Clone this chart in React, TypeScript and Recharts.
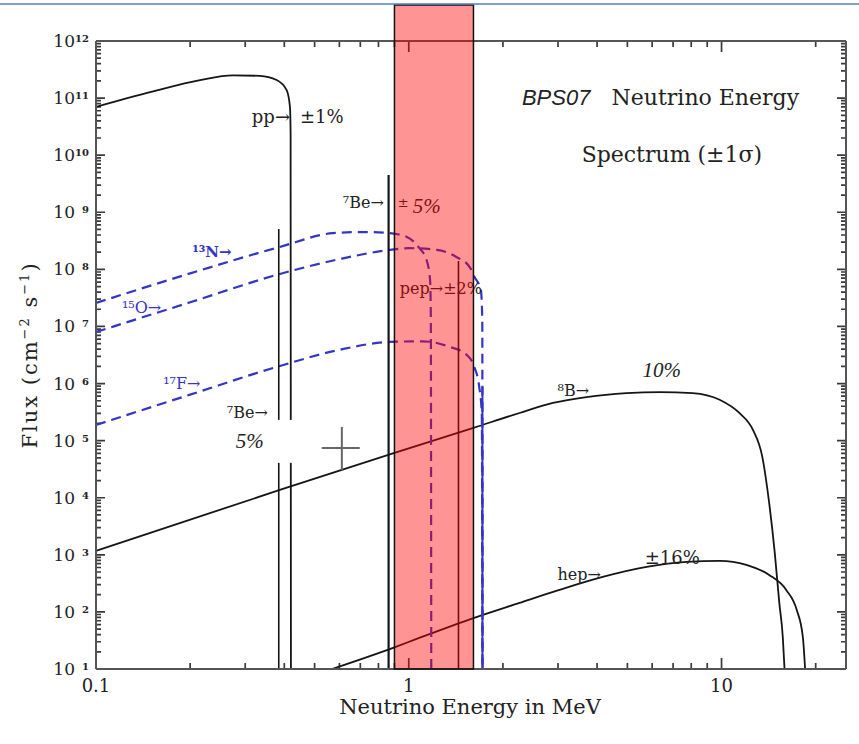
import React from "react";
import { LineChart, Line, XAxis, YAxis, ReferenceArea, ReferenceDot } from "recharts";

// energies in MeV, fluxes in cm^-2 s^-1 (per MeV for continua)
const ppEnergy = [0.1, 0.15, 0.215, 0.274, 0.334, 0.378, 0.407, 0.417, 0.419, 0.42];
const ppFlux = [7.0e10, 1.28e11, 2.07e11, 2.5e11, 2.45e11, 2.07e11, 1.38e11, 7e10, 2.4e10, 10];

const n13Energy = [0.1, 0.2, 0.387, 0.571, 0.7, 0.8, 0.87, 0.986, 1.08, 1.14, 1.17, 1.176, 1.18];
const n13Flux = [2.58e7, 8.5e7, 2.47e8, 4.3e8, 4.5e8, 4.45e8, 4.3e8, 3.7e8, 2.37e8, 1.46e8, 6.5e7, 1.7e7, 10];

const o15Energy = [0.1, 0.2, 0.387, 0.603, 0.87, 1.0, 1.23, 1.42, 1.57, 1.62, 1.7, 1.718, 1.722];
const o15Flux = [8.0e6, 2.65e7, 8.3e7, 1.52e8, 2.19e8, 2.35e8, 2.19e8, 1.65e8, 1.07e8, 7.4e7, 4.4e7, 1.3e7, 10];

const f17Energy = [0.1, 0.2, 0.387, 0.6, 0.87, 1.11, 1.35, 1.53, 1.62, 1.68, 1.712, 1.72];
const f17Flux = [1.88e5, 6.4e5, 2.03e6, 3.9e6, 5.36e6, 5.5e6, 4.4e6, 3.2e6, 1.95e6, 8.7e5, 3e5, 10];

const cnoTailEnergy = [1.72, 1.72];
const cnoTailFlux = [8.7e5, 10];

const b8Energy = [0.1, 0.387, 0.9, 1.61, 2.26, 2.89, 3.7, 4.97, 6.34, 8.08, 9.86, 11.4, 12.6, 13.5, 14.2, 14.8, 15.3, 15.7, 15.9];
const b8Flux = [1.17e3, 1.37e4, 6.1e4, 1.67e5, 3.05e5, 4.57e5, 5.8e5, 6.8e5, 7.1e5, 6.8e5, 5.2e5, 3.05e5, 1.54e5, 5.2e4, 8.1e3, 1.07e3, 144, 36, 10];

const hepEnergy = [0.568, 0.9, 1.08, 1.61, 2.26, 3.03, 4.17, 5.76, 7.73, 9.86, 12.0, 14.2, 16.1, 17.4, 18.2, 18.5];
const hepFlux = [10, 24, 35, 78, 144, 243, 410, 614, 751, 782, 665, 445, 243, 108, 36, 10];

// monoenergetic lines: 7Be (0.384), 7Be (0.862), pep (1.442)
const lineEnergies = [0.384, 0.862, 1.442];
const lineTops = [5.1e8, 4.5e9, 1.4e8];
const lineWidths = [1.6, 2.2, 1.6];

// measured point with error cross
const crossEnergy = [0.527, 0.611, 0.697];
const crossFlux = [3.07e4, 7.45e4, 1.74e5];

// highlighted energy window
const bandEnergy = [0.9, 1.61];

const xDomain = [0.1, 25];
const yDomain = [10, 1e12];
const xMajorTicks = [0.1, 1, 10];
const xMinorTicks = [0.2, 0.3, 0.4, 0.5, 0.6, 0.7, 0.8, 0.9, 2, 3, 4, 5, 6, 7, 8, 9, 20];
const yExponents = [1, 2, 3, 4, 5, 6, 7, 8, 9, 10, 11, 12];
const yMinorMultipliers = [2, 3, 4, 5, 6, 7, 8, 9];

type Annotation = { text: string; e: number; flux: number; kind: string };
const annotations: Annotation[] = [
  { text: "pp→", e: 0.315, flux: 4.67e10, kind: "large" },
  { text: "±1%", e: 0.449, flux: 4.67e10, kind: "large" },
  { text: "BPS07", e: 2.3, flux: 1.04e11, kind: "titleItalic" },
  { text: "Neutrino Energy", e: 4.45, flux: 1.04e11, kind: "title" },
  { text: "Spectrum (±1σ)", e: 3.57, flux: 1.01e10, kind: "title" },
  { text: "⁷Be→", e: 0.615, flux: 1.51e9, kind: "plain" },
  { text: "±", e: 0.922, flux: 1.51e9, kind: "small" },
  { text: "5%", e: 1.03, flux: 1.29e9, kind: "italic" },
  { text: "¹³N→", e: 0.203, flux: 2.02e8, kind: "blueBold" },
  { text: "¹⁵O→", e: 0.121, flux: 2.11e7, kind: "blue" },
  { text: "¹⁷F→", e: 0.164, flux: 1.02e6, kind: "blue" },
  { text: "⁷Be→", e: 0.262, flux: 3.05e5, kind: "plain" },
  { text: "5%", e: 0.28, flux: 9.9e4, kind: "boxedItalic" },
  { text: "pep→±2%", e: 0.936, flux: 4.7e7, kind: "plain" },
  { text: "⁸B→", e: 2.99, flux: 7.7e5, kind: "plain" },
  { text: "10%", e: 5.59, flux: 1.73e6, kind: "italic" },
  { text: "hep→", e: 2.99, flux: 445, kind: "plain" },
  { text: "±16%", e: 5.68, flux: 884, kind: "large" },
];

const FRAME = "#555";
const TICK = "#3a3a3a";
const INK = "#151515";
const BLUE = "#3434c6";
const SERIF = "'DejaVu Serif', serif";
const ITALIC_SERIF = "'Liberation Serif', serif";

const textStyles: Record<string, React.SVGProps<SVGTextElement>> = {
  plain: { fontFamily: SERIF, fontSize: 16, fill: "#222" },
  small: { fontFamily: SERIF, fontSize: 13, fill: "#222" },
  large: { fontFamily: SERIF, fontSize: 18, fill: "#222" },
  italic: { fontFamily: ITALIC_SERIF, fontSize: 21, fontStyle: "italic", fill: "#222" },
  boxedItalic: { fontFamily: ITALIC_SERIF, fontSize: 21, fontStyle: "italic", fill: "#222" },
  blue: { fontFamily: SERIF, fontSize: 16, fill: BLUE },
  blueBold: { fontFamily: SERIF, fontSize: 15, fontWeight: 700, fill: BLUE },
  title: { fontFamily: SERIF, fontSize: 22, fill: "#222" },
  titleItalic: { fontFamily: "'Liberation Sans', sans-serif", fontSize: 22, fontStyle: "italic", fill: "#222" },
};

const W = 859;
const H = 744;
const MARGIN = { top: 40, right: 12, bottom: 74, left: 95 };
const plotW = W - MARGIN.left - MARGIN.right - 2;
const plotH = H - MARGIN.top - MARGIN.bottom - 2;
// pixel length of a tick mark expressed as a factor along each log axis
const xFactor = (px: number) => 10 ** ((px / plotW) * Math.log10(xDomain[1] / xDomain[0]));
const yFactor = (px: number) => 10 ** ((px / plotH) * Math.log10(yDomain[1] / yDomain[0]));

const toPoints = (e: number[], f: number[]) => e.map((v, i) => ({ e: v, flux: f[i] }));

const yMajorTicks = yExponents.map((k) => 10 ** k);
const yMinorTicks: number[] = [];
yExponents.slice(0, -1).forEach((k) => yMinorMultipliers.forEach((m) => yMinorTicks.push(m * 10 ** k)));

// tick marks as broken polylines (null flux breaks the path between marks)
type P = { e: number; flux: number | null };
const bottomMarks: P[] = [];
const topMarks: P[] = [];
const leftMarks: P[] = [];
const rightMarks: P[] = [];
const addX = (v: number, px: number) => {
  const f = yFactor(px);
  bottomMarks.push({ e: v, flux: yDomain[0] }, { e: v, flux: yDomain[0] * f }, { e: v, flux: null });
  topMarks.push({ e: v, flux: yDomain[1] }, { e: v, flux: yDomain[1] / f }, { e: v, flux: null });
};
const addY = (v: number, px: number) => {
  const f = xFactor(px);
  leftMarks.push({ e: xDomain[0], flux: v }, { e: xDomain[0] * f, flux: v }, { e: xDomain[0] * f, flux: null });
  rightMarks.push({ e: xDomain[1], flux: v }, { e: xDomain[1] / f, flux: v }, { e: xDomain[1] / f, flux: null });
};
[...xMajorTicks].forEach((v) => addX(v, 11));
xMinorTicks.forEach((v) => addX(v, 6));
yMajorTicks.forEach((v) => addY(v, 9));
yMinorTicks.forEach((v) => addY(v, 5));

function BottomLabel(props: any) {
  const { x, y, payload } = props;
  return (
    <text x={x} y={y + 23} textAnchor="middle" fontFamily={SERIF} fontSize={18} fill="#222">
      {String(payload.value)}
    </text>
  );
}

function LeftLabel(props: any) {
  const { x, y, payload } = props;
  const exp = Math.round(Math.log10(payload.value));
  return (
    <g fontFamily={SERIF} fill="#222">
      <text x={x - 21} y={y + 6} textAnchor="end" fontSize={17}>10</text>
      <text x={x - 7} y={y + 1} textAnchor="end" fontSize={10} fontWeight={700}>{exp}</text>
    </g>
  );
}

function BandShape(props: any) {
  const { x, y, width, height } = props;
  const top = 5;
  return (
    <rect x={x} y={top} width={width} height={y + height - top} fill="#ff0000" fillOpacity={0.42} stroke="#111" strokeWidth={1.5} />
  );
}

function AnnotationMark({ cx, cy, a }: { cx: number; cy: number; a: Annotation }) {
  const style = textStyles[a.kind];
  return (
    <g>
      {a.kind === "boxedItalic" && <rect x={cx - 6} y={cy - 21} width={63} height={43} fill="#fff" />}
      <text x={cx} y={cy} dominantBaseline="central" {...style}>
        {a.text}
      </text>
    </g>
  );
}

export default function App() {
  const series = [
    { key: "pp", data: toPoints(ppEnergy, ppFlux), color: INK, dash: undefined, width: 1.8 },
    { key: "8B", data: toPoints(b8Energy, b8Flux), color: INK, dash: undefined, width: 1.8 },
    { key: "hep", data: toPoints(hepEnergy, hepFlux), color: INK, dash: undefined, width: 1.8 },
    { key: "13N", data: toPoints(n13Energy, n13Flux), color: BLUE, dash: "10 6", width: 2.2 },
    { key: "15O", data: toPoints(o15Energy, o15Flux), color: BLUE, dash: "10 6", width: 2.2 },
    { key: "17F", data: toPoints(f17Energy, f17Flux), color: BLUE, dash: "10 6", width: 2.2 },
    { key: "cnoTail", data: toPoints(cnoTailEnergy, cnoTailFlux), color: BLUE, dash: undefined, width: 2 },
  ];
  const tickSets = [
    { key: "ticksBottom", data: bottomMarks },
    { key: "ticksTop", data: topMarks },
    { key: "ticksLeft", data: leftMarks },
    { key: "ticksRight", data: rightMarks },
  ];
  const axisLine = { stroke: FRAME, strokeWidth: 2 };
  const xCommon = { type: "number" as const, scale: "log" as const, domain: xDomain, allowDataOverflow: true, interval: 0 as const, height: 1, tickSize: 0, tickMargin: 0, tickLine: false, axisLine };
  const yCommon = { type: "number" as const, scale: "log" as const, domain: yDomain, allowDataOverflow: true, interval: 0 as const, width: 1, tickSize: 0, tickMargin: 0, tickLine: false, axisLine };
  return (
    <div style={{ position: "absolute", left: 0, top: 0, width: W, height: H, background: "#fff" }}>
      <LineChart width={W} height={H} margin={MARGIN}>
        <XAxis {...xCommon} dataKey="e" ticks={xMajorTicks} tick={<BottomLabel />} />
        <XAxis {...xCommon} xAxisId="top" orientation="top" ticks={xMajorTicks} tick={false} />
        <YAxis {...yCommon} ticks={yMajorTicks} tick={<LeftLabel />} />
        <YAxis {...yCommon} yAxisId="right" orientation="right" ticks={yMajorTicks} tick={false} />

        {tickSets.map((t) => (
          <Line
            key={t.key}
            data={t.data}
            dataKey="flux"
            type="linear"
            connectNulls={false}
            stroke={TICK}
            strokeWidth={1.7}
            dot={false}
            activeDot={false}
            isAnimationActive={false}
          />
        ))}

        {series.map((s) => (
          <Line
            key={s.key}
            data={s.data}
            dataKey="flux"
            type="monotone"
            stroke={s.color}
            strokeWidth={s.width}
            strokeDasharray={s.dash}
            dot={false}
            activeDot={false}
            isAnimationActive={false}
          />
        ))}

        {lineEnergies.map((e, i) => (
          <Line
            key={"line" + e}
            data={[{ e, flux: 10 }, { e, flux: lineTops[i] }]}
            dataKey="flux"
            type="linear"
            stroke={INK}
            strokeWidth={lineWidths[i]}
            dot={false}
            activeDot={false}
            isAnimationActive={false}
          />
        ))}

        <Line
          data={[{ e: crossEnergy[0], flux: crossFlux[1] }, { e: crossEnergy[2], flux: crossFlux[1] }]}
          dataKey="flux"
          type="linear"
          stroke="#666"
          strokeWidth={2}
          dot={false}
          activeDot={false}
          isAnimationActive={false}
        />
        <Line
          data={[{ e: crossEnergy[1], flux: crossFlux[0] }, { e: crossEnergy[1], flux: crossFlux[2] }]}
          dataKey="flux"
          type="linear"
          stroke="#666"
          strokeWidth={2}
          dot={false}
          activeDot={false}
          isAnimationActive={false}
        />

        {annotations.map((a, i) => (
          <ReferenceDot
            key={"ann" + i}
            x={a.e}
            y={a.flux}
            r={1}
            zIndex={450}
            shape={(p: any) => <AnnotationMark cx={p.cx} cy={p.cy} a={a} />}
          />
        ))}

        <ReferenceArea
          x1={bandEnergy[0]}
          x2={bandEnergy[1]}
          y1={yDomain[0]}
          y2={yDomain[1]}
          zIndex={550}
          shape={<BandShape />}
        />
      </LineChart>

      <svg width={W} height={H} style={{ position: "absolute", left: 0, top: 0, pointerEvents: "none" }}>
        <line x1={0} x2={W} y1={4} y2={4} stroke="#4f7fc0" strokeWidth={1.5} />
        <text x={470} y={714} textAnchor="middle" fontFamily={SERIF} fontSize={21} fill="#222">
          Neutrino Energy in MeV
        </text>
        <text
          transform="translate(37,355) rotate(-90)"
          textAnchor="middle"
          fontFamily={SERIF}
          fontSize={21}
          letterSpacing={2}
          fill="#222"
        >
          Flux (cm
          <tspan fontSize={13} dy={-8}>−2</tspan>
          <tspan dy={8}> s</tspan>
          <tspan fontSize={13} dy={-8}>−1</tspan>
          <tspan dy={8}>)</tspan>
        </text>
      </svg>
    </div>
  );
}
